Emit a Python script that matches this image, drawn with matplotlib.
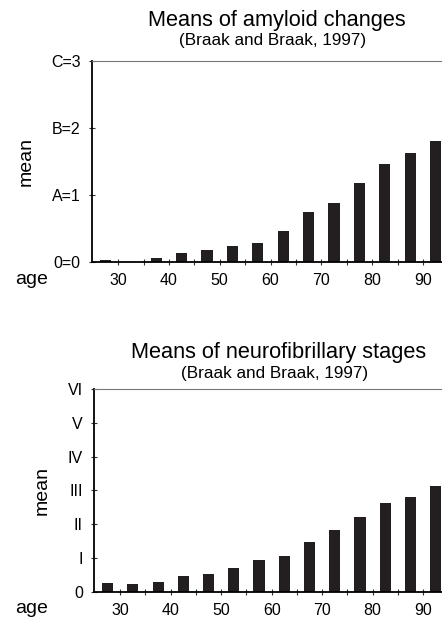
import matplotlib
matplotlib.use("Agg")
import matplotlib.pyplot as plt

plt.rcParams['font.family'] = ['Liberation Sans', 'DejaVu Sans']

# age groups (5-year bins, centre of bin)
ages = [27.5, 32.5, 37.5, 42.5, 47.5, 52.5, 57.5, 62.5, 67.5, 72.5, 77.5, 82.5, 87.5, 92.5]

# mean amyloid stage (0, A=1, B=2, C=3)
amyloid = [0.03, 0.0, 0.05, 0.13, 0.18, 0.235, 0.275, 0.46, 0.75, 0.87, 1.18, 1.455, 1.62, 1.81]
amyloid_ticks = [0, 1, 2, 3]
amyloid_labels = ['0=0', 'A=1', 'B=2', 'C=3']

# mean neurofibrillary stage (0 - VI)
neuro = [0.25, 0.23, 0.30, 0.46, 0.53, 0.70, 0.94, 1.05, 1.46, 1.82, 2.22, 2.62, 2.79, 3.13]
neuro_ticks = [0, 1, 2, 3, 4, 5, 6]
neuro_labels = ['0', 'I', 'II', 'III', 'IV', 'V', 'VI']

age_ticks = [30, 40, 50, 60, 70, 80, 90]
age_minor = [35, 45, 55, 65, 75, 85]

W, H = 442, 618
fig = plt.figure(figsize=(W / 100, H / 100), dpi=100)


def px_axes(left, top, right, bottom):
    # pixel box -> figure fraction
    return [left / W, 1 - bottom / H, (right - left) / W, (bottom - top) / H]


def draw_panel(box, values, yticks, ylabels, title, title_pos, sub_pos, age_y):
    ax = fig.add_axes(px_axes(*box))
    ax.bar(ages, values, width=2.2, color='#231f20', edgecolor='none')
    ax.set_xlim(24.8, 93.75)
    ax.set_ylim(0, yticks[-1])
    ax.set_yticks(yticks)
    ax.set_yticklabels(ylabels)
    ax.set_xticks(age_ticks)
    ax.set_xticks(age_minor, minor=True)
    ax.tick_params(axis='both', which='both', direction='inout', length=4, width=0.8,
                   labelsize=11.5, color='#333333')
    ax.tick_params(axis='x', pad=6)
    ax.tick_params(axis='y', pad=6)
    ax.spines['right'].set_visible(False)
    ax.spines['top'].set_color('#777777')
    ax.spines['top'].set_linewidth(0.8)
    ax.spines['left'].set_linewidth(1.3)
    ax.spines['bottom'].set_linewidth(1.3)
    ax.set_ylabel('mean', fontsize=14, labelpad=12)

    fig.text(title_pos[0] / W, 1 - title_pos[1] / H, title, fontsize=15.7,
             ha='center', va='baseline')
    fig.text(sub_pos[0] / W, 1 - sub_pos[1] / H, '(Braak and Braak, 1997)', fontsize=12.3,
             ha='center', va='baseline')
    fig.text(15 / W, 1 - age_y / H, 'age', fontsize=14, ha='left', va='baseline')
    return ax


draw_panel((91.7, 61, 442, 261.7), amyloid, amyloid_ticks, amyloid_labels,
           'Means of amyloid changes', (276.5, 25.7), (273, 45), 284)
draw_panel((94, 389, 442, 591.7), neuro, neuro_ticks, neuro_labels,
           'Means of neurofibrillary stages', (279, 358.3), (275, 378), 613)

fig.savefig('out.png', dpi=100)
